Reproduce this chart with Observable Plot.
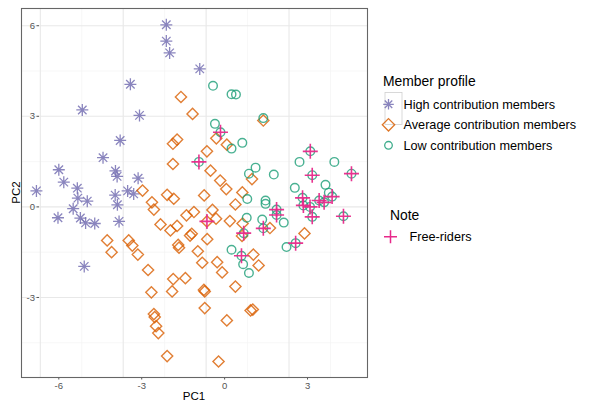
<!DOCTYPE html>
<html><head><meta charset="utf-8">
<script src="https://cdn.jsdelivr.net/npm/d3@7"></script>
<script src="https://cdn.jsdelivr.net/npm/@observablehq/plot@0.6"></script>
<style>body{margin:0;background:#fff;} #chart{width:592px;height:403px;}</style>
</head><body><div id="chart"></div>
<script>
// PC1, PC2 scores per member profile
const high = [[-2.11,6.03],[-2.11,5.49],[-1.99,5.10],[-0.90,4.57],[-3.41,4.06],[-5.15,3.21],[-3.08,3.03],[-3.78,2.20],[-4.40,1.63],[-6.00,1.23],[-5.82,0.82],[-3.95,1.19],[-3.89,1.01],[-3.13,0.95],[-6.81,0.53],[-5.33,0.62],[-5.31,0.29],[-4.97,0.19],[-5.48,-0.06],[-6.03,-0.36],[-5.22,-0.37],[-5.03,-0.53],[-4.70,-0.55],[-3.96,0.39],[-3.88,0.07],[-3.82,-0.48],[-3.51,0.53],[-3.29,0.43],[-5.08,-1.97]];
const average = [[-1.58,3.64],[-1.16,3.08],[-1.87,2.09],[-1.72,2.23],[-1.87,1.42],[-0.64,1.84],[-0.30,2.27],[0.08,2.06],[-0.51,1.20],[-0.16,0.87],[0.06,0.59],[0.64,0.48],[0.99,0.92],[1.40,2.86],[-2.97,0.54],[-2.08,0.40],[-1.84,0.27],[-2.63,0.15],[-2.56,-0.09],[-0.74,0.38],[0.39,0.08],[-0.44,-0.10],[-1.11,-0.17],[-1.38,-0.28],[-2.32,-0.58],[-1.96,-0.78],[-1.72,-0.63],[-0.31,-0.39],[0.19,-0.47],[0.65,-0.55],[-1.25,-0.95],[-1.19,-0.89],[-0.63,-1.07],[0.63,-0.96],[-1.68,-1.26],[-1.65,-1.35],[-3.47,-1.11],[-3.34,-1.28],[-3.14,-1.58],[-4.25,-1.11],[-4.09,-1.50],[-0.97,-1.47],[-0.81,-1.85],[-0.27,-1.83],[-0.09,-2.17],[-2.77,-2.09],[-1.86,-2.39],[-1.42,-2.36],[-2.65,-2.83],[-1.90,-2.80],[-0.75,-2.75],[-0.72,-2.80],[0.39,-2.64],[-0.72,-3.35],[0.08,-3.76],[0.94,-3.43],[1.02,-3.40],[-2.56,-3.55],[-2.53,-3.65],[-2.48,-3.95],[-2.40,-4.18],[-2.08,-4.94],[-0.22,-5.12],[1.04,-1.58],[1.23,-1.94],[1.64,-0.70],[2.89,-0.88],[-0.64,-0.48]];
const low = [[-0.42,4.01],[0.25,3.73],[0.41,3.72],[1.40,2.94],[-0.35,2.75],[-0.15,2.47],[0.64,2.12],[0.25,1.93],[-0.93,1.49],[0.88,1.10],[1.12,1.30],[1.78,1.07],[2.71,1.49],[3.10,1.84],[3.97,1.49],[3.17,1.05],[4.59,1.10],[2.54,0.63],[3.65,0.73],[3.77,0.47],[0.82,0.26],[1.48,0.21],[1.48,0.10],[2.82,0.30],[2.85,0.05],[3.09,0.00],[3.42,0.21],[3.60,0.15],[3.89,0.34],[3.17,-0.33],[4.30,-0.31],[1.88,-0.09],[1.88,-0.27],[2.14,-0.52],[1.36,-0.42],[1.40,-0.71],[0.80,-0.36],[0.69,-0.87],[0.25,-1.42],[0.61,-1.62],[0.67,-1.90],[0.88,-2.19],[2.24,-1.33],[2.57,-1.20]];
// which members are free-riders (indices into the arrays above)
const averageFreeIdx = [67];
const lowFreeIdx = [5,8,13,15,16,23,24,25,26,27,28,29,30,31,32,35,37,39,43];

const groupNames = ["High contribution members","Average contribution members","Low contribution members"];
const groupColors = ["#7570b3","#d95f02","#1b9e77"];
const freeName = "Free-riders";
const freeColor = "#e7298a";
const xTicks = [-6,-3,0,3], yTicks = [6,3,0,-3];
const xMinor = [-4.5,-1.5,1.5,4.5], yMinor = [4.5,1.5,-1.5,-4.5];

const asterisk = {draw(c, size){const r=Math.sqrt(size/Math.PI), d=r*Math.SQRT1_2;
  c.moveTo(-r,0);c.lineTo(r,0);c.moveTo(0,-r);c.lineTo(0,r);
  c.moveTo(-d,-d);c.lineTo(d,d);c.moveTo(-d,d);c.lineTo(d,-d);}};
const diamond = {draw(c, size){const r=Math.sqrt(size/Math.PI);
  c.moveTo(0,-r);c.lineTo(r,0);c.lineTo(0,r);c.lineTo(-r,0);c.closePath();}};
const circle = {draw(c, size){const r=Math.sqrt(size/Math.PI); c.moveTo(r,0); c.arc(0,0,r,0,2*Math.PI);}};
const plus = {draw(c, size){const r=Math.sqrt(size/Math.PI);
  c.moveTo(-r,0);c.lineTo(r,0);c.moveTo(0,-r);c.lineTo(0,r);}};

const freeRiders = [...averageFreeIdx.map(i=>average[i]), ...lowFreeIdx.map(i=>low[i])];
const font = "'Liberation Sans', Arial, Helvetica, sans-serif";
const fmt = d => String(d);

const plot = Plot.plot({
  width: 592, height: 403,
  marginLeft: 21, marginRight: 225, marginTop: 8, marginBottom: 26,
  x: {domain: [-7.35, 5.17]},
  y: {domain: [-5.65, 6.57]},
  style: {fontFamily: font, background: "#fff"},
  marks: [
    Plot.gridX(xMinor, {stroke: "#f3f3f3", strokeOpacity: 1, strokeWidth: 0.7, dx: -18.5}),
    Plot.gridY(yMinor, {stroke: "#f3f3f3", strokeOpacity: 1, strokeWidth: 0.7}),
    Plot.gridX(xTicks, {stroke: "#e8e8e8", strokeOpacity: 1, strokeWidth: 1.1, dx: -18.5}),
    Plot.gridY(yTicks, {stroke: "#e8e8e8", strokeOpacity: 1, strokeWidth: 1.1}),
    Plot.axisX(xTicks, {tickSize: 2.5, tickPadding: 2, fontSize: 9.5, fill: "#555", stroke: "#555", tickFormat: fmt, label: null}),
    Plot.axisY(yTicks, {tickSize: 2.5, tickPadding: 2, dx: 18, fontSize: 9.5, fill: "#555", stroke: "#555", tickFormat: fmt, label: null}),
    Plot.frame({stroke: "#666", strokeWidth: 1.1}),
    Plot.dot(high, {x: d=>d[0], y: d=>d[1], symbol: asterisk, r: 6, fill: "none", stroke: groupColors[0], strokeWidth: 1.3, strokeOpacity: 0.85}),
    Plot.dot(average, {x: d=>d[0], y: d=>d[1], symbol: diamond, r: 5.6, fill: "none", stroke: groupColors[1], strokeWidth: 1.4, strokeOpacity: 0.8}),
    Plot.dot(low, {x: d=>d[0], y: d=>d[1], symbol: circle, r: 4.3, fill: "none", stroke: groupColors[2], strokeWidth: 1.4, strokeOpacity: 0.8}),
    Plot.dot(freeRiders, {x: d=>d[0], y: d=>d[1], symbol: plus, r: 7.5, fill: "none", stroke: freeColor, strokeWidth: 1.6, strokeOpacity: 0.95})
  ]
});
document.getElementById("chart").appendChild(plot);

// axis titles and legends
const svg = d3.select(plot);
const g = svg.append("g").attr("font-family", font).attr("fill", "#000").attr("text-anchor", "start");
g.append("text").attr("x", 194).attr("y", 400).attr("text-anchor", "middle").attr("font-size", 11.5).text("PC1");
g.append("text").attr("transform", "translate(19.5,192.5) rotate(-90)").attr("text-anchor", "middle").attr("font-size", 11.5).text("PC2");

g.append("text").attr("x", 383).attr("y", 85.5).attr("text-anchor", "start").attr("font-size", 13.9).text("Member profile");
g.append("rect").attr("x", 385).attr("y", 92.5).attr("width", 17).attr("height", 32).attr("fill", "none").attr("stroke", "#cfcfcf").attr("stroke-width", 0.8);
const legSyms = [[asterisk, 5.3], [diamond, 6.2], [circle, 3.8]];
groupNames.forEach((name, i) => {
  const cy = 104.3 + i * 20.5;
  g.append("path").attr("transform", `translate(388.5,${cy})`)
    .attr("d", d3.symbol(legSyms[i][0], Math.PI * legSyms[i][1] ** 2)())
    .attr("fill", "none").attr("stroke", groupColors[i]).attr("stroke-width", 1.3).attr("stroke-opacity", 0.85);
  g.append("text").attr("x", 403.5).attr("y", cy + 4.5).attr("text-anchor", "start").attr("font-size", 12.7).text(name);
});
g.append("text").attr("x", 390).attr("y", 219.5).attr("text-anchor", "start").attr("font-size", 13.9).text("Note");
g.append("path").attr("transform", "translate(390.5,236.7)")
  .attr("d", d3.symbol(plus, Math.PI * 6.5 ** 2)())
  .attr("fill", "none").attr("stroke", freeColor).attr("stroke-width", 1.5);
g.append("text").attr("x", 409.5).attr("y", 241.2).attr("text-anchor", "start").attr("font-size", 12.7).text(freeName);
</script>
</body></html>
